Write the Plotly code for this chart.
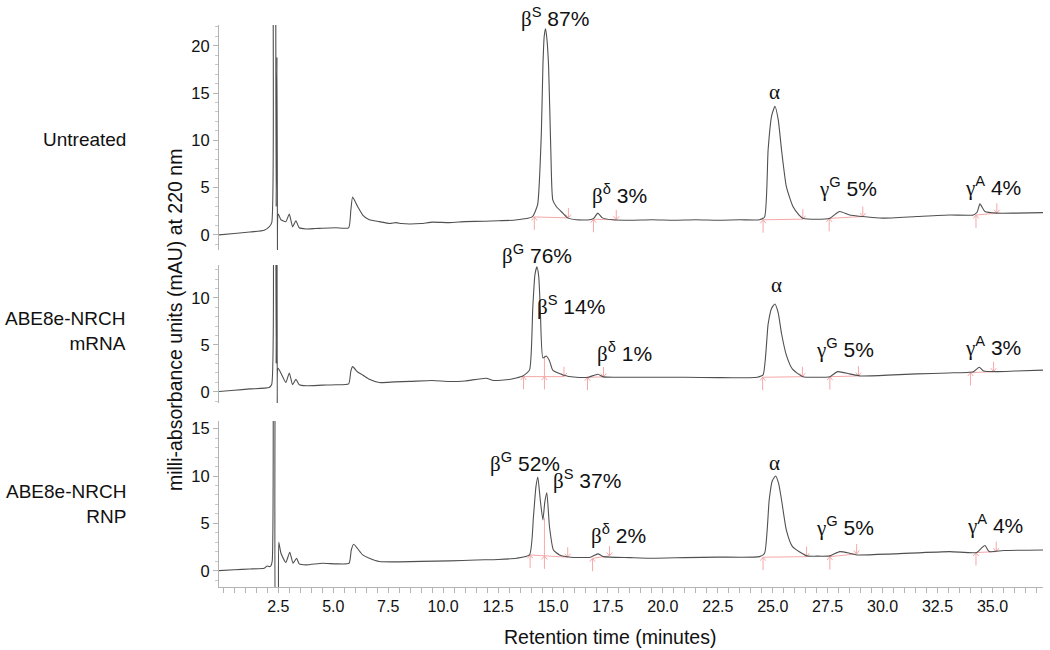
import plotly.graph_objects as go

# ---------------- data ----------------
t_untr = [-0.2, 0.5, 1.2, 1.86, 2.08, 2.2, 2.24, 2.30, 2.37, 2.40, 2.44, 2.47, 2.50, 2.62, 2.84, 3.0, 3.15, 3.3, 3.45, 3.76,
          4.2, 4.51, 5.12, 5.70, 5.80, 5.88, 6.11, 6.34, 6.64, 7.1, 7.56, 7.86, 8.1, 8.46, 9.0, 9.52, 10.28, 11.0, 11.9, 12.5,
          13.2, 13.7, 14.07, 14.3, 14.47, 14.54, 14.6, 14.66, 14.72, 14.8, 14.9, 14.99, 15.15, 15.45, 15.66, 16.06, 16.66,
          16.85, 17.04, 17.25, 17.7, 18.5, 19.5, 20.5, 21.5, 22.5, 23.5, 24.4, 24.63, 24.79, 24.95, 25.1, 25.25, 25.4, 25.62,
          25.92, 26.2, 26.37, 27.0, 27.6, 27.85, 28.05, 28.5, 29.1, 30.0, 31.55, 33.06, 34.13, 34.3, 34.43, 34.66, 35.19,
          36.0, 37.3]
a_untr = [0.0, 0.15, 0.3, 0.5, 0.85, 1.3, 40, 60, 40, 3.0, 18.8, -10, 2.2, 1.6, 1.4, 2.2, 0.85, 1.5, 0.75, 0.63,
          0.68, 0.7, 0.75, 0.75, 2.6, 4.0, 3.0, 2.1, 1.6, 1.4, 1.2, 1.3, 1.2, 1.15, 1.2, 1.35, 1.3, 1.4, 1.45, 1.5,
          1.55, 1.7, 1.94, 3.2, 10.8, 17.8, 21.0, 21.8, 20.8, 17.8, 9.0, 3.7, 3.0, 2.3, 1.8, 1.6, 1.6,
          1.75, 2.3, 1.8, 1.6, 1.55, 1.6, 1.55, 1.6, 1.55, 1.6, 1.6, 1.9, 9.0, 12.6, 13.6, 12.2, 9.0, 5.1,
          3.0, 2.1, 1.77, 1.66, 1.77, 2.2, 2.47, 2.1, 1.94, 1.77, 1.94, 2.1, 2.1, 2.4, 3.28, 2.47, 2.3,
          2.3, 2.36]

t_mrna = [-0.2, 0.5, 1.2, 2.08, 2.2, 2.24, 2.30, 2.37, 2.40, 2.43, 2.46, 2.49, 2.62, 2.84, 3.0, 3.15, 3.3, 3.45, 3.76, 4.5,
          5.12, 5.70, 5.80, 5.88, 6.11, 6.34, 6.64, 7.1, 7.8, 8.5, 9.5, 10.28, 11.0, 11.96, 12.3, 13.0, 13.63, 13.93, 14.08,
          14.18, 14.27, 14.35, 14.42, 14.54, 14.69, 14.84, 14.99, 15.45, 16.06, 16.6, 17.04, 17.3, 18.0, 19.4, 21.0, 22.5,
          24.3, 24.56, 24.79, 24.95, 25.1, 25.25, 25.4, 25.62, 25.9, 26.37, 27.0, 27.6, 27.95, 28.5, 29.0, 30.5, 31.55,
          33.0, 34.13, 34.4, 34.6, 35.19, 36.0, 37.3]
a_mrna = [0.03, 0.15, 0.3, 0.45, 0.8, 40, 60, 40, 3.0, 30, -10, 2.5, 1.97, 0.98, 2.0, 0.74, 1.33, 0.74, 0.63, 0.7,
          0.74, 0.84, 2.2, 2.67, 2.1, 1.79, 1.33, 0.98, 1.05, 1.1, 1.19, 1.09, 1.15, 1.44, 1.2, 1.3, 1.68, 2.3, 9.0,
          12.5, 13.3, 12.3, 9.0, 3.6, 3.8, 3.3, 2.3, 1.79, 1.54, 1.55, 1.86, 1.58, 1.55, 1.54, 1.55, 1.5,
          1.55, 1.79, 7.2, 8.9, 9.34, 8.4, 6.2, 3.9, 2.4, 1.6, 1.54, 1.6, 2.14, 1.9, 1.68, 1.8, 1.9,
          2.0, 2.14, 2.6, 2.2, 2.14, 2.2, 2.3]

t_rnp = [-0.2, 0.5, 1.2, 1.86, 2.0, 2.08, 2.15, 2.22, 2.26, 2.32, 2.38, 2.42, 2.47, 2.52, 2.62, 2.84, 3.02, 3.17, 3.33,
         3.45, 3.76, 4.51, 5.12, 5.72, 5.82, 5.93, 6.34, 6.64, 7.1, 8.0, 9.0, 10.3, 11.5, 12.5, 13.33, 13.93, 14.11, 14.22,
         14.31, 14.42, 14.54, 14.63, 14.72, 14.84, 15.02, 15.3, 15.8, 16.7, 17.04, 17.3, 18.5, 19.4, 21.0, 22.5, 24.4,
         24.63, 24.84, 24.98, 25.13, 25.27, 25.4, 25.62, 25.9, 26.54, 27.0, 27.6, 28.05, 28.5, 28.82, 30.5, 33.06, 34.28,
         34.5, 34.66, 34.85, 35.5, 37.3]
a_rnp = [0.03, 0.12, 0.2, 0.28, 0.52, 0.45, 0.5, 1.0, 40, 60, 40, -10, -10, 3.0, 1.86, 0.88, 1.97, 0.81, 1.33,
         0.74, 0.63, 0.8, 0.74, 0.8, 2.2, 2.8, 1.68, 1.33, 0.98, 0.95, 1.0, 1.05, 1.15, 1.2, 1.33, 1.68, 5.7, 8.8,
         9.9, 7.5, 5.37, 7.3, 8.24, 4.66, 2.2, 1.68, 1.44, 1.44, 1.79, 1.5, 1.4, 1.33, 1.4, 1.45, 1.5,
         1.86, 7.5, 9.5, 10.0, 9.2, 7.5, 4.3, 2.56, 1.58, 1.55, 1.58, 2.03, 1.86, 1.68, 1.79, 2.03, 1.93,
         2.4, 2.67, 2.03, 2.14, 2.2]

# peak labels  (greek | superscript | percent)
lab_untr = ["β|S|87%", "β|δ|3%", "α||", "γ|G|5%", "γ|A|4%"]
lab_untr_t = [15.11, 18.03, 25.09, 28.42, 35.02]
lab_untr_v = [22.96, 4.23, 15.1, 4.97, 5.08]

lab_mrna = ["β|G|76%", "β|S|14%", "β|δ|1%", "α||", "γ|G|5%", "γ|A|3%"]
lab_mrna_t = [14.25, 15.84, 18.26, 25.18, 28.28, 35.02]
lab_mrna_v = [14.63, 9.16, 4.21, 11.37, 4.63, 4.84]

lab_rnp = ["β|G|52%", "β|S|37%", "β|δ|2%", "α||", "γ|G|5%", "γ|A|4%"]
lab_rnp_t = [13.72, 16.55, 17.98, 25.09, 28.28, 35.11]
lab_rnp_v = [11.47, 9.68, 3.79, 11.37, 4.63, 4.84]

# integration baselines (start -> end) and split drop lines
base_untr_t0 = [14.15, 16.84, 24.56, 27.57, 34.25]
base_untr_v0 = [1.9, 1.65, 1.6, 1.75, 2.1]
base_untr_t1 = [15.7, 17.88, 26.37, 29.1, 35.2]
base_untr_v1 = [1.8, 1.6, 1.66, 1.94, 2.3]
split_untr_t, split_untr_v0, split_untr_v1 = [], [], []

base_mrna_t0 = [13.66, 16.57, 24.54, 27.6, 34.0]
base_mrna_v0 = [1.61, 1.54, 1.54, 1.6, 2.03]
base_mrna_t1 = [15.5, 17.3, 26.35, 28.9, 35.05]
base_mrna_v1 = [1.61, 1.58, 1.6, 1.68, 2.14]
split_mrna_t, split_mrna_v0, split_mrna_v1 = [14.61], [1.61], [3.8]

base_rnp_t0 = [13.96, 16.8, 24.56, 27.6, 34.25]
base_rnp_v0 = [1.68, 1.33, 1.44, 1.5, 1.93]
base_rnp_t1 = [15.67, 17.57, 26.54, 28.82, 35.17]
base_rnp_v1 = [1.44, 1.58, 1.5, 1.79, 2.03]
split_rnp_t, split_rnp_v0, split_rnp_v1 = [14.61], [1.57], [5.6]

row_names = ["Untreated", "ABE8e-NRCH<br>mRNA", "ABE8e-NRCH<br>RNP"]
x_tick_vals = [2.5, 5.0, 7.5, 10.0, 12.5, 15.0, 17.5, 20.0, 22.5, 25.0, 27.5, 30.0, 32.5, 35.0]

# ---------------- styling ----------------
SANS = "Liberation Sans, Arial, sans-serif"
SERIF = "Liberation Serif, Times New Roman, serif"
TRACE_C = "#505050"
PINK = "rgb(246,168,168)"
AX_C = "#b4b4b4"
PX_PER_MIN = 21.95      # horizontal scale of the plot, px per minute
PX_PER_UNIT = 9.5       # vertical scale, px per mAU
UP_LEN, DOWN_LEN, HEAD_W, HEAD_H = 13, 10, 2.8, 3.5   # arrow glyph sizes in px

panels = [
    dict(t=t_untr, a=a_untr, lab=lab_untr, lt=lab_untr_t, lv=lab_untr_v,
         b=(base_untr_t0, base_untr_v0, base_untr_t1, base_untr_v1),
         s=(split_untr_t, split_untr_v0, split_untr_v1),
         rng=[-1.6, 22.2], dom=[0.5996, 1.0], ticks=[0, 5, 10, 15, 20]),
    dict(t=t_mrna, a=a_mrna, lab=lab_mrna, lt=lab_mrna_t, lv=lab_mrna_v,
         b=(base_mrna_t0, base_mrna_v0, base_mrna_t1, base_mrna_v1),
         s=(split_mrna_t, split_mrna_v0, split_mrna_v1),
         rng=[-1.2, 13.5], dom=[0.3274, 0.573], ticks=[0, 5, 10]),
    dict(t=t_rnp, a=a_rnp, lab=lab_rnp, lt=lab_rnp_t, lv=lab_rnp_v,
         b=(base_rnp_t0, base_rnp_v0, base_rnp_t1, base_rnp_v1),
         s=(split_rnp_t, split_rnp_v0, split_rnp_v1),
         rng=[-1.7, 15.8], dom=[0.0, 0.2954], ticks=[0, 5, 10, 15]),
]

fig = go.Figure()
annotations = []
layout = {}

hw = HEAD_W / PX_PER_MIN
hh = HEAD_H / PX_PER_UNIT

for i, p in enumerate(panels):
    k = "" if i == 0 else str(i + 1)
    xr, yr = "x" + k, "y" + k
    lo, hi = p["rng"]
    # pink integration baselines + drop lines + arrows
    bx, by = [], []
    t0, v0, t1, v1 = p["b"]
    st, sv0, sv1 = p["s"]
    for a_, b_, c_, d_ in zip(t0, v0, t1, v1):
        bx += [a_, c_, None]
        by += [b_, d_, None]
    for a_, b_, c_ in zip(st, sv0, sv1):
        bx += [a_, a_, None]
        by += [b_, c_, None]
    for tt, vv in list(zip(t0, v0)) + list(zip(st, sv0)):
        bx += [tt, tt, None, tt - hw, tt, tt + hw, None]
        by += [vv - UP_LEN / PX_PER_UNIT, vv, None, vv - hh, vv, vv - hh, None]
    for tt, vv in zip(t1, v1):
        bx += [tt, tt, None, tt - hw, tt, tt + hw, None]
        by += [vv + DOWN_LEN / PX_PER_UNIT, vv, None, vv + hh, vv, vv + hh, None]
    fig.add_trace(go.Scatter(x=bx, y=by, mode="lines", line=dict(color=PINK, width=1),
                             xaxis=xr, yaxis=yr, hoverinfo="skip", showlegend=False, cliponaxis=False))
    # chromatogram
    fig.add_trace(go.Scatter(x=p["t"], y=p["a"], mode="lines",
                             line=dict(color=TRACE_C, width=1.1, shape="spline", smoothing=0.5),
                             xaxis=xr, yaxis=yr, showlegend=False))
    # peak labels: anchored inside the range, shifted in px when above it
    for lab, tt, vv in zip(p["lab"], p["lt"], p["lv"]):
        g, sup, pct = lab.split("|")
        txt = f"<span style='font-family:{SERIF}'>{g}</span>"
        if sup:
            txt += f"<sup>{sup}</sup> {pct}"
        ya = min(vv, hi - 0.05)
        annotations.append(dict(x=tt, y=ya, xref=xr, yref=yr, yshift=(vv - ya) * PX_PER_UNIT, text=txt,
                                showarrow=False, font=dict(family=SANS, size=21, color="#111")))
    # axes
    layout["yaxis" + k] = dict(domain=p["dom"], range=p["rng"], anchor=xr, showline=True, linecolor=AX_C,
                               linewidth=1, ticks="outside", ticklen=5, tickcolor=AX_C, tickvals=p["ticks"],
                               showgrid=False, zeroline=False, tickfont=dict(family=SANS, size=16.5, color="#111"),
                               minor=dict(dtick=1, tick0=0, ticks="outside", ticklen=3, tickcolor="#c8c8c8",
                                          showgrid=False))
    xa = dict(domain=[0, 1], range=[-0.2, 37.3], anchor=yr, showgrid=False, zeroline=False)
    if i < 2:
        xa.update(matches="x3", showticklabels=False, showline=False, ticks="")
    else:
        xa.update(showline=True, linecolor=AX_C, linewidth=1, ticks="outside", ticklen=5, tickcolor=AX_C,
                  tickvals=x_tick_vals, ticktext=[f"{v:.1f}" for v in x_tick_vals],
                  tickfont=dict(family=SANS, size=16, color="#111"),
                  minor=dict(dtick=0.5, tick0=0, ticks="outside", ticklen=5, tickcolor=AX_C, showgrid=False))
    layout["xaxis" + k] = xa

# row labels (right aligned at x≈128 px)
row_y = [0.7954, 0.4555, 0.1477]
for name, yy in zip(row_names, row_y):
    annotations.append(dict(x=-0.1104, y=yy, xref="paper", yref="paper", text=name, showarrow=False,
                            xanchor="right", yanchor="middle", align="right",
                            font=dict(family=SANS, size=19, color="#111")))

# axis titles
annotations.append(dict(x=-0.0534, y=0.475, xref="paper", yref="paper", textangle=-90,
                        text="milli-absorbance units (mAU) at 220 nm", showarrow=False,
                        xanchor="center", yanchor="middle", font=dict(family=SANS, size=19.5, color="#111")))
annotations.append(dict(x=0.4745, y=-0.0890, xref="paper", yref="paper",
                        text="Retention time (minutes)", showarrow=False,
                        xanchor="center", yanchor="middle", font=dict(family=SANS, size=19.5, color="#111")))

fig.update_layout(**layout)
fig.update_layout(width=1050, height=650, margin=dict(l=219, r=7, t=25, b=63),
                  paper_bgcolor="white", plot_bgcolor="white", annotations=annotations,
                  font=dict(family=SANS, color="#111"), showlegend=False)

fig.write_html("out.html", config={"displayModeBar": False},
               post_script="document.body.style.margin='0';document.body.style.overflow='hidden';")
